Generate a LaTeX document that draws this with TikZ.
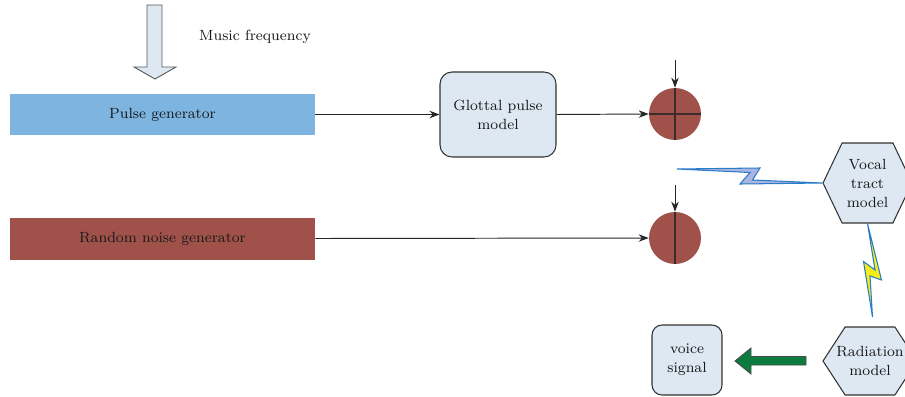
\documentclass[tikz,border=0pt]{standalone}
\usetikzlibrary{arrows.meta, shapes.symbols}

\definecolor{boxblue}{HTML}{DDE8F2}
\definecolor{pulseblue}{HTML}{7DB4E0}
\definecolor{noisered}{HTML}{A0524A}
\definecolor{crossdark}{HTML}{3B2B2B}
\definecolor{boltblue}{HTML}{2A7CC7}
\definecolor{boltfill}{HTML}{AAB4E2}
\definecolor{boltyellow}{HTML}{F5EC1A}
\definecolor{arrowgreen}{HTML}{0B7B3E}

\tikzset{
    every node/.style={font=\fontsize{8.4}{10.8}\selectfont, text=black!90},
    gen/.style={rectangle, minimum width=6.1cm, minimum height=0.84cm},
    block/.style={draw=black!80, fill=boxblue, rounded corners=0.24cm, align=center, line width=0.6pt},
    mixer/.style={circle, fill=noisered, minimum size=1.04cm, inner sep=0pt},
    hexa/.style={signal, signal to=west and east, draw=black!80, fill=boxblue, align=center, line width=0.6pt, inner sep=0pt},
    flow/.style={-{Stealth[length=2mm,width=1.5mm]}, line width=0.55pt, black!85},
    bolt/.style={draw=boltblue, line width=0.6pt, line join=miter}
}

\begin{document}
\begin{tikzpicture}[x=0.02cm, y=-0.02cm]
    % Fix the frame to the reference size
    \useasboundingbox (0,0) rectangle (905,396);

    % Generators on the left
    \node[gen, fill=pulseblue] (pulse) at (162.5,114.5) {Pulse generator};
    \node[gen, fill=noisered] (noise) at (162.5,238.5) {Random noise generator};

    % Music frequency input arrow
    \filldraw[fill=boxblue, draw=black!65, line width=0.5pt]
        (147,5) -- (162,5) -- (162,67) -- (176,67) -- (155,79) -- (134,67) -- (147,67) -- cycle;
    \node[anchor=west] (music) at (193,37) {Music frequency};

    % Glottal pulse model
    \node[block, minimum width=2.32cm, minimum height=1.7cm] (glottal) at (498,114.5) {Glottal pulse\\model};

    % The two adders
    \node[mixer] (add1) at (675,114) {};
    \node[mixer] (add2) at (675,238) {};
    \draw[crossdark, line width=0.9pt] (add1.west) -- (add1.east);
    \draw[crossdark, line width=0.9pt] (add1.north) -- (add1.south);
    \draw[crossdark, line width=0.9pt] (add2.north) -- (add2.south);

    % Inputs from above
    \coordinate (top1) at (675,60);
    \coordinate (top2) at (675,185);

    % Connections
    \draw[flow] (pulse.east) -- (glottal.west);
    \draw[flow] (glottal.east) -- (add1.west);
    \draw[flow] (top1) -- (add1.north);
    \draw[flow] (noise.east) -- (add2.west);
    \draw[flow] (top2) -- (add2.north);

    % Vocal tract and radiation models
    \node[hexa, signal pointer angle=129, minimum width=1.78cm, minimum height=1.6cm] (vocal) at (867.5,183) {Vocal\\tract\\model};
    \node[hexa, signal pointer angle=114, minimum width=1.88cm, minimum height=1.36cm] (radiation) at (870,361) {\makebox[0.9cm]{Radiation}\\model};

    % Voice signal output
    \node[block, minimum width=1.4cm, minimum height=1.4cm, rounded corners=0.2cm] (voice) at (687,360) {voice\\signal};

    % Lightning links
    \filldraw[bolt, fill=boltfill]
        (677,169) -- (760,168) -- (752.5,180) -- (vocal.west) -- (740,184) -- (750,172.5) -- cycle;
    \filldraw[bolt, fill=boltyellow]
        (vocal.south) -- (881.5,280) -- (870,276) -- (872.5,317) -- (863.5,261.5) -- (875,270) -- cycle;

    % Green output arrow
    \filldraw[fill=arrowgreen, draw=black!70, line width=0.5pt]
        (806,356.5) -- (751,356.5) -- (751,348) -- (735,361) -- (751,374) -- (751,365) -- (806,365) -- cycle;
\end{tikzpicture}
\end{document}
